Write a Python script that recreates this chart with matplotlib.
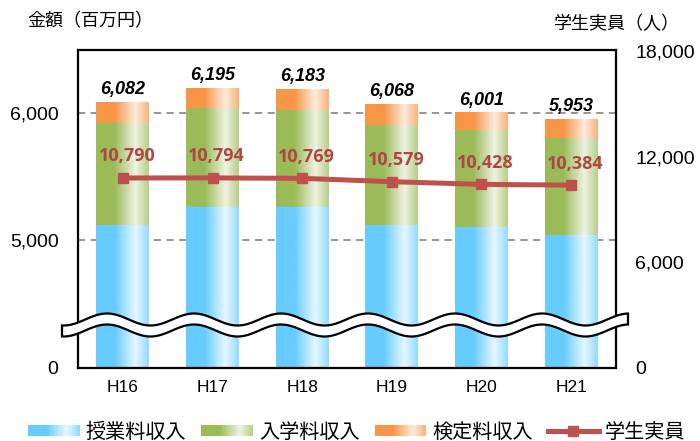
import numpy as np
import matplotlib
matplotlib.use("Agg")
import matplotlib.pyplot as plt
from matplotlib.patches import Rectangle, Polygon
from matplotlib.lines import Line2D
from matplotlib.legend_handler import HandlerBase

# ---------------- data ----------------
years = ["H16", "H17", "H18", "H19", "H20", "H21"]
tuition = [5125, 5260, 5260, 5125, 5102, 5047]      # 授業料収入
entrance = [797, 779, 763, 781, 763, 758]           # 入学料収入
exam = [160, 156, 160, 162, 136, 148]               # 検定料収入
totals = [6082, 6195, 6183, 6068, 6001, 5953]
students = [10790, 10794, 10769, 10579, 10428, 10384]  # 学生実員

left_ticks = [4000, 5000, 6000]
left_ticklabels = ["0", "5,000", "6,000"]
right_ticks = [0, 6000, 12000, 18000]
right_ticklabels = ["0", "6,000", "12,000", "18,000"]

series_names = ["授業料収入", "入学料収入", "検定料収入", "学生実員"]

# ---------------- style ----------------
JP = ["Noto Sans CJK JP", "DejaVu Sans"]
NUM = ["Liberation Sans", "DejaVu Sans"]
colors = {
    "blue": ((0x66, 0xcc, 0xff), (0xe6, 0xf7, 0xff)),
    "green": ((0x9b, 0xbb, 0x59), (0xee, 0xf3, 0xe2)),
    "orange": ((0xf7, 0x96, 0x46), (0xfd, 0xeb, 0xde)),
}
line_color = "#c0504d"
label_red = "#b04644"


def grad_colors(base, hi, n=64):
    base = np.array(base) / 255.0
    hi = np.array(hi) / 255.0
    pos = np.linspace(0, 1, n)
    stops = [0.0, 0.35, 0.75, 1.0]
    mix = [0.0, 0.0, 1.0, 0.35]
    t = np.interp(pos, stops, mix)
    return base[None, :] * (1 - t[:, None]) + hi[None, :] * t[:, None]


W, H = 700, 441
fig = plt.figure(figsize=(W / 100, H / 100), dpi=100)
L, R, T, B = 78, 616, 50, 368
ax = fig.add_axes([L / W, (H - B) / H, (R - L) / W, (B - T) / H])

x = np.arange(len(years))
bw = 0.59
ax.set_xlim(-0.5, len(years) - 0.5)
ylo, yhi = 4000, 6494
ax.set_ylim(ylo, yhi)

# grid lines
for v in [5000, 6000]:
    ax.axhline(v, color="#8c8c8c", lw=1.3, ls=(0, (4, 3)), zorder=1)

bottoms = np.zeros(len(years))
for vals, key in [(tuition, "blue"), (entrance, "green"), (exam, "orange")]:
    bars = ax.bar(x, vals, bottom=bottoms, width=bw, facecolor="none",
                  edgecolor="none", zorder=2)
    g = grad_colors(*colors[key])
    for rect in bars:
        x0, y0 = rect.get_xy()
        ax.imshow(g[None, :, :], extent=[x0, x0 + rect.get_width(), y0, y0 + rect.get_height()],
                  aspect="auto", interpolation="bilinear", zorder=2)
    bottoms = bottoms + np.array(vals)

ax.set_xlim(-0.5, len(years) - 0.5)
ax.set_ylim(ylo, yhi)
ax.set_aspect("auto")

for xi, tot, top in zip(x, totals, bottoms):
    ax.annotate(f"{tot:,}", (xi, top), xytext=(0, 3), textcoords="offset points",
                ha="center", va="bottom", fontsize=13, fontweight="bold",
                fontstyle="italic", family=NUM, color="black", zorder=6)

ax.set_yticks(left_ticks)
ax.set_yticklabels(left_ticklabels, family=NUM, fontsize=14)
ax.set_xticks(x)
ax.set_xticklabels(years, family=NUM, fontsize=12.5)
ax.tick_params(axis="y", length=0, pad=14)
ax.tick_params(axis="x", length=0, pad=9)
for s in ax.spines.values():
    s.set_linewidth(1.6)
    s.set_color("black")

# right axis
ax2 = ax.twinx()
ax2.set_ylim(0, 18057)
ax2.set_yticks(right_ticks)
ax2.set_yticklabels(right_ticklabels, family=NUM, fontsize=14)
ax2.tick_params(axis="y", length=0, pad=14)
for s in ax2.spines.values():
    s.set_visible(False)

ax2.plot(x, students, color=line_color, lw=3.6, marker="s", markersize=7.5,
         zorder=5)
for xi, v in zip(x, students):
    ax2.annotate(f"{v:,}", (xi, v), xytext=(3, 9), textcoords="offset points",
                 ha="center", va="bottom", fontsize=13, fontweight="bold",
                 family=["Open Sans", "DejaVu Sans"], color=label_red, zorder=6)

# axis break (wavy band)
px = np.linspace(62, 628, 400)
xf = (px - L) / (R - L)
yc = (B - 325) / (B - T)
A = 6 / (B - T)
th = 5.5 / (B - T)
x0c = (107 - L) / (R - L)
P = 87 / (R - L)
wave = yc + A * np.cos(2 * np.pi * (xf - x0c) / P)
pts = np.concatenate([np.column_stack([xf, wave + th]),
                      np.column_stack([xf[::-1], wave[::-1] - th])])
ax2.add_patch(Polygon(pts, closed=True, transform=ax2.transAxes, facecolor="white",
                      edgecolor="black", lw=1.6, clip_on=False, zorder=4))

# axis titles
fig.text(27 / W, 1 - 21 / H, "金額（百万円）", family=JP, fontsize=13,
         ha="left", va="center")
fig.text(680 / W, 1 - 24 / H, "学生実員（人）", family=JP, fontsize=13,
         ha="right", va="center")


# legend
class GradHandler(HandlerBase):
    def __init__(self, key):
        super().__init__()
        self.key = key

    def create_artists(self, legend, orig_handle, xdescent, ydescent, width,
                       height, fontsize, trans):
        g = grad_colors(*colors[self.key], n=40)
        arts = []
        n = len(g)
        for i, c in enumerate(g):
            arts.append(Rectangle((-xdescent + i * width / n, -ydescent),
                                  width / n * 1.08, height, facecolor=c,
                                  edgecolor="none", transform=trans))
        return arts


h_blue = Rectangle((0, 0), 1, 1)
h_green = Rectangle((0, 0), 1, 1)
h_orange = Rectangle((0, 0), 1, 1)
h_line = Line2D([], [], color=line_color, lw=3.6, marker="s", markersize=7)
leg = fig.legend([h_blue, h_green, h_orange, h_line], series_names,
                 handler_map={h_blue: GradHandler("blue"),
                              h_green: GradHandler("green"),
                              h_orange: GradHandler("orange")},
                 loc="center", bbox_to_anchor=(357 / W, (H - 432) / H),
                 ncol=4, frameon=False, prop={"family": JP, "size": 14.5},
                 handlelength=2.55, handleheight=0.5, handletextpad=0.3,
                 columnspacing=0.75, borderpad=0, numpoints=1)

fig.savefig("out.png", dpi=100)
